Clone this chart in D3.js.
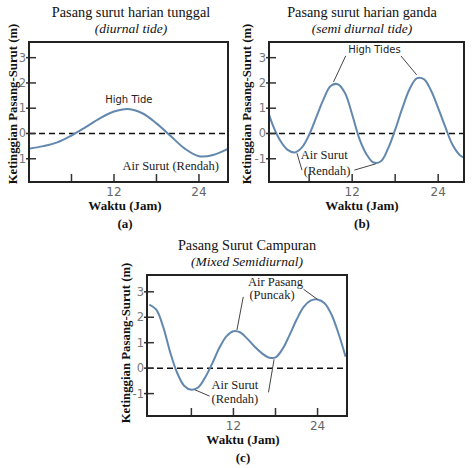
<!DOCTYPE html>
<html><head><meta charset="utf-8">
<script src="https://cdn.jsdelivr.net/npm/d3@7"></script>
<style>body{margin:0;background:#fff}svg{display:block}</style>
</head><body>
<svg id="c" width="474" height="468"></svg>
<script>
// ---- data ----
const hoursA = [0,2,4,6,8,10,12,14,16,18,20,22,24,26,28];
const tideA  = [-0.6,-0.5,-0.35,-0.08,0.25,0.6,0.87,0.97,0.8,0.4,-0.1,-0.6,-0.9,-0.85,-0.62];
const hoursB = d3.range(0,29);
const tideB  = [1.1,0.28,-0.3,-0.65,-0.75,-0.55,-0.05,0.65,1.35,1.88,1.95,1.6,0.75,-0.2,-0.82,-1.15,-1.1,-0.6,0.15,1.0,1.75,2.18,2.15,1.7,1.0,0.25,-0.45,-0.85,-1.0];
const hoursC = d3.range(0,29);
const tideC  = [2.5,2.3,1.6,0.6,-0.2,-0.7,-0.85,-0.75,-0.35,0.2,0.8,1.25,1.45,1.4,1.15,0.85,0.6,0.42,0.42,0.75,1.3,1.9,2.4,2.65,2.7,2.55,2.1,1.35,0.45];
const yTicks = [-1,0,1,2,3];
const yTickLabelsA = ["1","0","1","2","3"];
const yTickLabelsBC = ["-1","0","1","2","3"];
const xTicks = [6,12,18,24];
const xTickLabels = {12:"12",24:"24"};
const titlesA = ["Pasang surut harian tunggal","(diurnal tide)"];
const titlesB = ["Pasang surut harian ganda","(semi diurnal tide)"];
const titlesC = ["Pasang Surut Campuran","(Mixed Semidiurnal)"];
const xLabel = "Waktu (Jam)";
const yLabel = "Ketinggian Pasang-Surut (m)";

const svg = d3.select("#c");
const serif = "'Liberation Serif','Times New Roman',serif";
const sans = "'DejaVu Sans',Verdana,sans-serif";

function panel(o){
  const x = d3.scaleLinear().domain(o.xd).range([o.l,o.r]);
  const y = d3.scaleLinear().domain(o.yd).range([o.b,o.t]);
  const g = svg.append("g");
  // titles
  g.append("text").attr("x",o.tcx).attr("y",o.t-25).attr("text-anchor","middle")
    .style("font-family",serif).style("font-size","14.3px").attr("fill","#111").text(o.titles[0]);
  g.append("text").attr("x",o.tcx).attr("y",o.t-9).attr("text-anchor","middle")
    .style("font-family",serif).style("font-size","13.5px").style("font-style","italic").attr("fill","#111").text(o.titles[1]);
  // clip
  const id = "clip"+o.name;
  svg.append("clipPath").attr("id",id).append("rect").attr("x",o.l).attr("y",o.t).attr("width",o.r-o.l).attr("height",o.b-o.t);
  // zero dashed
  g.append("line").attr("x1",o.l).attr("x2",o.r).attr("y1",y(0)).attr("y2",y(0))
    .attr("stroke","#111").attr("stroke-width",1.5).attr("stroke-dasharray","6,4");
  // curve
  const line = d3.line().x((d,i)=>x(o.hours[i])).y(d=>y(d)).curve(d3.curveCatmullRom.alpha(0.5));
  g.append("path").attr("clip-path",`url(#${id})`).attr("d",line(o.tide)).attr("fill","none")
    .attr("stroke","#6388ae").attr("stroke-width",2);
  // y ticks
  const yt = g.append("g");
  yTicks.forEach((v,i)=>{
    yt.append("line").attr("x1",o.l-3).attr("x2",o.l+7).attr("y1",y(v)).attr("y2",y(v)).attr("stroke","#333").attr("stroke-width",1.5);
    yt.append("text").attr("x",o.l-3).attr("y",y(v)+4).attr("text-anchor","end")
      .style("font-family",sans).style("font-size","11.5px").attr("fill","#777").text(o.ylabels[i]);
  });
  // x ticks
  xTicks.forEach(v=>{
    g.append("line").attr("x1",x(v)).attr("x2",x(v)).attr("y1",o.b).attr("y2",o.b-8).attr("stroke","#333").attr("stroke-width",1.5);
    if(xTickLabels[v]) g.append("text").attr("x",x(v)).attr("y",o.b+14).attr("text-anchor","middle")
      .style("font-family",sans).style("font-size","12px").attr("fill","#666").text(xTickLabels[v]);
  });
  // frame
  g.append("rect").attr("x",o.l).attr("y",o.t).attr("width",o.r-o.l).attr("height",o.b-o.t)
    .attr("fill","none").attr("stroke","#222").attr("stroke-width",2);
  // labels
  g.append("text").attr("x",o.xlx).attr("y",o.b+28).attr("text-anchor","middle")
    .style("font-family",serif).style("font-size","13px").style("font-weight","bold").attr("fill","#111").text(xLabel);
  g.append("text").attr("x",o.xlx).attr("y",o.b+46).attr("text-anchor","middle")
    .style("font-family",serif).style("font-size","13px").style("font-weight","bold").attr("fill","#111").text(o.letter);
  g.append("text").attr("transform",`translate(${o.ylx},${o.yly}) rotate(-90)`).attr("text-anchor","middle")
    .style("font-family",serif).style("font-size","12.8px").style("font-weight","bold").attr("fill","#111").text(yLabel);
  // annotations
  o.notes.forEach(n=>{
    g.append("text").attr("x",x(n.h)).attr("y",y(n.v)).attr("text-anchor","middle")
      .style("font-family",n.sans?sans:serif).style("font-size",n.sans?"10px":"12.5px").attr("fill","#222").text(n.t);
  });
  o.leaders.forEach(p=>{
    g.append("line").attr("x1",x(p[0])).attr("y1",y(p[1])).attr("x2",x(p[2])).attr("y2",y(p[3]))
      .attr("stroke","#444").attr("stroke-width",1);
  });
}

panel({name:"a",l:29,r:228,t:42,b:182,xd:[0,28.1],yd:[-1.92,3.62],hours:hoursA,tide:tideA,
  titles:titlesA,ylabels:yTickLabelsA,letter:"(a)",tcx:131,xlx:125,ylx:17,yly:104,
  notes:[{t:"High Tide",h:14.1,v:1.22,sans:true},{t:"Air Surut (Rendah)",h:20.0,v:-1.45}],
  leaders:[]});
panel({name:"b",l:269,r:464,t:42,b:182,xd:[0.4,27.6],yd:[-1.92,3.62],hours:hoursB,tide:tideB,
  titles:titlesB,ylabels:yTickLabelsBC,letter:"(b)",tcx:362,xlx:362,ylx:251,yly:104,
  notes:[{t:"High Tides",h:15.1,v:3.2,sans:true},{t:"Air Surut",h:8.1,v:-1.0},{t:"(Rendah)",h:8.5,v:-1.65}],
  leaders:[[11.1,3.07,9.4,2.04],[18.8,3.07,21.0,2.32],[4.3,-0.78,5.0,-1.45],[12.3,-1.45,15.3,-1.2]]});
panel({name:"c",l:147,r:347,t:275,b:416,xd:[-0.33,28.2],yd:[-1.88,3.66],hours:hoursC,tide:tideC,
  titles:titlesC,ylabels:yTickLabelsBC,letter:"(c)",tcx:247,xlx:243,ylx:130,yly:343,
  notes:[{t:"Air Pasang",h:18.0,v:3.24},{t:"(Puncak)",h:17.5,v:2.7},{t:"Air Surut",h:12.2,v:-0.8},{t:"(Rendah)",h:12.2,v:-1.38}],
  leaders:[[13.4,2.8,12.5,1.5],[22.0,3.1,24.0,2.7],[6.5,-0.85,8.6,-1.1],[17.8,0.35,17.0,-0.95]]});
</script>
</body></html>
